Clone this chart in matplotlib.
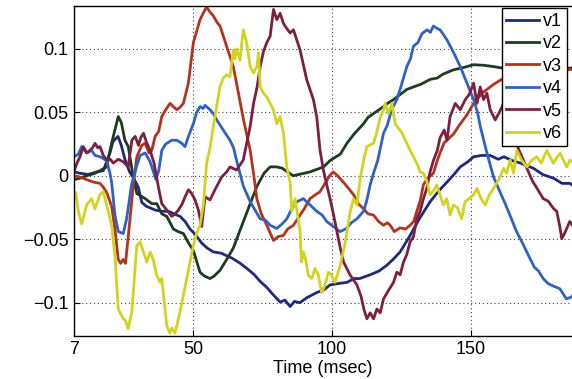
import matplotlib
matplotlib.use("Agg")
import matplotlib.pyplot as plt

# traced samples (time in msec, amplitude)
v1_t = [7, 9, 12, 15, 17.5, 19.9, 21, 22.8, 24, 25.3, 27, 28.5, 30.1, 31.4, 33, 36.2, 38.6, 41, 43, 45.2,
        47, 48.8, 50.6, 53, 55, 57.2, 60, 62, 64, 66.9, 69.3, 72, 74, 76.5, 78.5, 81.3, 83, 84.9, 86.5, 88.4,
        91, 94.5, 97, 99.3, 102, 105.4, 108, 110, 113.8, 117, 119.8, 122, 124.6, 128.2, 131.5, 135.4, 138.5,
        141.5, 144, 146.3, 149, 151.1, 154, 157.1, 160, 162, 165, 168, 172.6, 176, 180, 183, 185.9, 187]
v1_y = [0.003, 0.002, 0.001, 0.003, 0.004, 0.018, 0.027, 0.031, 0.024, 0.013, 0.003, -0.002, -0.009, -0.021,
        -0.024, -0.027, -0.028, -0.028, -0.030, -0.032, -0.036, -0.042, -0.046, -0.053, -0.057, -0.060, -0.061,
        -0.063, -0.065, -0.069, -0.073, -0.078, -0.083, -0.088, -0.093, -0.0995, -0.098, -0.103, -0.099, -0.100,
        -0.096, -0.092, -0.090, -0.086, -0.085, -0.084, -0.081, -0.081, -0.078, -0.075, -0.0705, -0.066, -0.060,
        -0.047, -0.034, -0.0205, -0.012, -0.005, 0.001, 0.007, 0.011, 0.015, 0.016, 0.016, 0.013, 0.015, 0.012,
        0.010, 0.006, 0.001, -0.002, -0.006, -0.006, -0.008]

v2_t = [7, 9, 11.5, 14.5, 16.3, 18.7, 20.5, 22.9, 24, 25.3, 26.5, 28.3, 29.6, 32.6, 35, 36.8, 38.6, 40.4,
        42.8, 44.5, 46.4, 48, 50, 52.4, 54, 56, 57.5, 59.6, 62, 64.4, 67, 70.5, 73, 75.5, 77.7, 80, 82, 84,
        86, 88, 90, 92, 94.5, 97, 99.3, 103, 105.4, 108, 111.4, 113, 115, 118.6, 120, 122.2, 124.6, 127,
        129.4, 132, 135.5, 138, 140, 143.9, 147, 151.1, 155, 158.3, 161, 165, 170, 175, 180, 187]
v2_y = [-0.003, -0.002, 0.0, 0.002, 0.004, 0.007, 0.0256, 0.0467, 0.042, 0.028, 0.023, -0.001, -0.014, -0.018,
        -0.022, -0.022, -0.030, -0.032, -0.042, -0.044, -0.0455, -0.052, -0.059, -0.076, -0.079, -0.081, -0.079,
        -0.0745, -0.066, -0.057, -0.042, -0.022, -0.008, 0.002, 0.007, 0.007, 0.006, 0.003, 0.0, 0.001, 0.002,
        0.003, 0.005, 0.007, 0.012, 0.017, 0.0256, 0.033, 0.041, 0.046, 0.049, 0.0545, 0.057, 0.060, 0.064,
        0.068, 0.070, 0.072, 0.076, 0.077, 0.080, 0.0835, 0.085, 0.0875, 0.087, 0.086, 0.085, 0.086, 0.085,
        0.085, 0.084, 0.085]

v3_t = [7, 9, 11.5, 14, 16.3, 17.5, 18.7, 20.5, 21.7, 22.9, 23.8, 24.7, 25.5, 26.5, 28.3, 29.6, 31.4, 32.6,
        34, 35, 36.2, 37.5, 38.6, 40, 41.6, 43, 44, 45.2, 46.4, 48.2, 50, 52.4, 54, 54.8, 56, 57.2, 58.5, 59.6,
        62, 64.4, 66, 68.1, 70.5, 71.7, 72.9, 74.5, 76.5, 78.9, 80.5, 82.5, 84, 86.1, 88.5, 90, 92.1, 94,
        95.7, 97.5, 99.3, 100.5, 102, 104.1, 106, 107.8, 109.5, 111.4, 113, 115, 116.8, 118.6, 120, 121,
        122.5, 124.6, 126.5, 128.2, 129.5, 130.6, 131.8, 133, 134.5, 136.6, 138, 139, 140.5, 143.9, 146,
        148.7, 151.1, 153, 154.7, 158.3, 161.3, 165, 170, 178, 187]
v3_y = [0.0, -0.001, -0.003, -0.005, -0.006, -0.009, -0.013, -0.024, -0.042, -0.066, -0.069, -0.066, -0.069,
        -0.048, -0.008, 0.015, 0.024, 0.0256, 0.018, 0.020, 0.031, 0.035, 0.0467, 0.052, 0.057, 0.054, 0.052,
        0.054, 0.057, 0.073, 0.105, 0.123, 0.130, 0.133, 0.129, 0.126, 0.121, 0.118, 0.102, 0.086, 0.068,
        0.044, 0.020, 0.002, -0.018, -0.030, -0.039, -0.051, -0.048, -0.047, -0.042, -0.039, -0.031, -0.026,
        -0.018, -0.015, -0.0126, -0.006, 0.0005, 0.003, 0.0, -0.005, -0.010, -0.015, -0.022, -0.026, -0.030,
        -0.031, -0.036, -0.039, -0.037, -0.039, -0.044, -0.041, -0.042, -0.039, -0.036, -0.028, -0.020, -0.007,
        -0.002, 0.002, 0.012, 0.018, 0.026, 0.033, 0.040, 0.048, 0.057, 0.062, 0.066, 0.072, 0.076, 0.079,
        0.080, 0.082, 0.084]

v4_t = [7, 8.5, 9.7, 11.5, 13.3, 14.5, 16.3, 18.7, 19.9, 20.5, 21.7, 22.9, 24.7, 25.9, 27.7, 29.6, 30.8,
        32.6, 34.4, 35.6, 36.5, 37.5, 38.6, 40, 42.2, 44, 45.8, 47, 48.2, 50, 51.2, 52.4, 53.5, 54.2, 56, 57.2,
        58.4, 60.8, 63.2, 64.5, 65.6, 66.8, 68, 70.5, 72.5, 74.1, 76, 77.7, 80.1, 82, 83.7, 85.5, 87.3, 89.7,
        92.1, 94.5, 96.5, 98.1, 100.5, 102.9, 105.3, 107, 109, 111.4, 112.5, 113.8, 115, 116.5, 118.6, 120,
        121.5, 123.4, 125, 127, 128.3, 129.4, 131, 132.5, 134.3, 135.5, 136.6, 138, 139, 140.3, 141.5, 143.9,
        146.3, 148.7, 151.1, 152.5, 153.5, 155.9, 158.3, 160.6, 162.5, 164.2, 166.6, 168.5, 171.4, 173, 174.5,
        176.2, 178, 180, 182.2, 184.6, 186.4, 187]
v4_y = [0.015, 0.017, 0.023, 0.018, 0.020, 0.016, 0.015, 0.012, 0.002, -0.005, -0.031, -0.044, -0.0455,
        -0.034, -0.007, 0.008, 0.016, 0.018, 0.011, 0.003, -0.003, 0.004, 0.020, 0.025, 0.028, 0.028, 0.0256,
        0.023, 0.031, 0.041, 0.050, 0.0545, 0.053, 0.0555, 0.052, 0.049, 0.044, 0.036, 0.028, 0.022, 0.012,
        0.002, -0.008, -0.0205, -0.028, -0.034, -0.035, -0.039, -0.0415, -0.038, -0.034, -0.026, -0.0205,
        -0.018, -0.023, -0.028, -0.031, -0.036, -0.040, -0.044, -0.0415, -0.037, -0.034, -0.028, -0.020, -0.007,
        0.002, 0.012, 0.0335, 0.040, 0.052, 0.060, 0.071, 0.086, 0.092, 0.102, 0.105, 0.112, 0.115, 0.113,
        0.118, 0.116, 0.115, 0.111, 0.107, 0.097, 0.086, 0.073, 0.060, 0.050, 0.039, 0.018, -0.001, -0.0126,
        -0.022, -0.031, -0.044, -0.052, -0.065, -0.072, -0.075, -0.081, -0.085, -0.087, -0.089, -0.097, -0.0955,
        -0.094]

v5_t = [7, 8, 9.1, 10.3, 11.5, 12.7, 13.6, 14.5, 15.5, 16.3, 17.5, 18.7, 20, 21.1, 22.9, 24.7, 26.5, 27.8,
        29, 30.2, 31, 32, 33.2, 34.4, 35.8, 37.4, 38.6, 40.4, 42.2, 43.4, 44.6, 46, 47, 48.2, 49.4, 50.6, 51.8,
        53, 54.2, 56, 57.8, 60.2, 62, 63.2, 65.6, 68, 70.5, 71.7, 73, 74.1, 75.3, 76.5, 77.7, 78.9, 80.1, 81.3,
        82.5, 83.7, 84.9, 86.1, 87.3, 88.5, 90.9, 93.3, 94.5, 95.7, 96.9, 98, 99.3, 100.5, 101.8, 103, 104.2,
        106.5, 109, 110.5, 111.5, 112.6, 113.8, 115, 116.2, 117.4, 118.6, 120.5, 122.2, 123.4, 124.6, 125.8,
        127, 128.2, 129.4, 130.6, 131.8, 133, 134.2, 135.4, 136.6, 138, 139, 140.5, 141.5, 142.6, 144.5, 146.3,
        148.1, 149.5, 151.1, 152.3, 153.5, 154.7, 155.9, 157.1, 158.9, 160.4, 161.9, 163.5, 165, 167.5, 169.5,
        171.4, 172.3, 174, 176.2, 178, 180, 181.1, 182.2, 182.9, 184, 185.8, 187]
v5_y = [0.004, 0.010, 0.015, 0.023, 0.018, 0.020, 0.022, 0.0255, 0.022, 0.023, 0.016, 0.0125, 0.013, 0.010,
        0.013, 0.011, 0.007, 0.028, 0.031, 0.024, 0.030, 0.0335, 0.0256, 0.020, 0.010, -0.009, -0.022, -0.027,
        -0.032, -0.030, -0.027, -0.022, -0.0166, -0.011, -0.014, -0.019, -0.027, -0.040, -0.0166, -0.019,
        -0.011, -0.001, 0.003, 0.007, 0.0045, 0.0124, 0.039, 0.057, 0.070, 0.086, 0.098, 0.105, 0.110, 0.131,
        0.123, 0.128, 0.120, 0.116, 0.1125, 0.115, 0.107, 0.099, 0.0756, 0.060, 0.0466, 0.020, 0.0045, -0.006,
        -0.018, -0.030, -0.044, -0.057, -0.068, -0.078, -0.086, -0.095, -0.105, -0.1127, -0.108, -0.1127,
        -0.105, -0.108, -0.097, -0.090, -0.084, -0.076, -0.078, -0.068, -0.062, -0.052, -0.048, -0.034, -0.028,
        -0.018, -0.010, 0.003, 0.012, 0.020, 0.030, 0.036, 0.028, 0.0466, 0.057, 0.052, 0.060, 0.064, 0.073,
        0.057, 0.070, 0.060, 0.065, 0.052, 0.044, 0.050, 0.057, 0.045, 0.035, 0.020, 0.010, 0.0005, -0.004,
        -0.010, -0.018, -0.020, -0.026, -0.028, -0.040, -0.0495, -0.045, -0.036, -0.040]

v6_t = [7, 7.5, 8.5, 9.7, 11.5, 13.3, 14.5, 16.3, 17.5, 18.7, 20.5, 21.7, 22.9, 24.7, 25.5, 26.5, 27.8, 29.6,
        30.8, 32, 33.2, 34.4, 35.5, 36.8, 38, 38.6, 40.4, 41.5, 42.2, 43.4, 45.2, 47.6, 50, 51.2, 52.4, 53.6,
        54.8, 56, 57.2, 58.4, 59.6, 60.8, 62, 63.2, 64.4, 65, 65.6, 66.8, 68, 69.2, 70.5, 71.7, 72.9, 73.5,
        74.1, 75.3, 76.5, 77.7, 78.9, 80.1, 81.3, 82.5, 83.7, 84.9, 85.5, 86.7, 88.5, 89, 89.7, 90.5, 91.5,
        92.7, 93.9, 95.1, 96.3, 97.5, 98.7, 99.9, 101.1, 103, 104.8, 106.6, 107.8, 109, 110.2, 111.4, 112.6,
        115, 116, 117.4, 118.6, 119.2, 120.4, 121.6, 122.8, 125.2, 128.2, 129.4, 131, 131.8, 133, 134.2,
        135.4, 136.6, 137.8, 139, 140.2, 141.4, 142.6, 143.8, 145.2, 146.8, 148, 149.5, 151.1, 152.3, 153.8,
        155.3, 156.8, 158.3, 160.7, 161.9, 163, 164.3, 165.5, 166.7, 168.5, 170.3, 172, 173.9, 175.5, 177.5,
        179.9, 181, 182.3, 184.7, 185.9, 187]
v6_y = [-0.014, -0.013, -0.028, -0.038, -0.023, -0.018, -0.026, -0.015, -0.0126, -0.023, -0.039, -0.063,
        -0.105, -0.1127, -0.114, -0.1205, -0.107, -0.055, -0.052, -0.060, -0.068, -0.060, -0.066, -0.0785,
        -0.084, -0.081, -0.118, -0.124, -0.120, -0.124, -0.107, -0.081, -0.055, -0.045, -0.039, -0.023, 0.010,
        0.022, 0.039, 0.055, 0.070, 0.077, 0.0795, 0.078, 0.099, 0.092, 0.100, 0.091, 0.115, 0.105, 0.086,
        0.081, 0.086, 0.097, 0.070, 0.065, 0.062, 0.057, 0.052, 0.041, 0.0466, 0.0335, 0.007, -0.005, -0.028,
        -0.018, -0.044, -0.068, -0.060, -0.066, -0.0785, -0.081, -0.073, -0.0785, -0.092, -0.086, -0.076,
        -0.0785, -0.084, -0.0705, -0.052, -0.028, -0.018, -0.023, -0.002, 0.012, 0.023, 0.0256, 0.033, 0.046,
        0.052, 0.057, 0.049, 0.057, 0.041, 0.034, 0.020, 0.015, 0.008, 0.003, 0.002, -0.004, -0.015, -0.012,
        -0.0073, -0.015, -0.023, -0.018, -0.031, -0.023, -0.025, -0.034, -0.0205, -0.018, -0.015, -0.010,
        -0.018, -0.023, -0.015, -0.010, -0.001, 0.006, 0.002, 0.0124, 0.002, 0.020, 0.012, 0.007, 0.012, 0.015,
        0.010, 0.020, 0.0098, 0.014, 0.0177, 0.007, 0.0124, 0.010]

labels = ["v1", "v2", "v3", "v4", "v5", "v6"]
colors = ["#1f2a78", "#1d3b1f", "#b3331f", "#2f62c4", "#7c1f40", "#d2d320"]

xticks = [7, 50, 100, 150]
yticks = [-0.1, -0.05, 0, 0.05, 0.1]
ytick_labels = ["\u22120.1", "\u22120.05", "0", "0.05", "0.1"]

plt.rcParams["font.family"] = ["Liberation Sans", "DejaVu Sans"]

fig = plt.figure(figsize=(5.72, 3.79), dpi=100)
ax = fig.add_axes([0.1297, 0.1143, 0.8703, 0.8707])

series = [(v1_t, v1_y), (v2_t, v2_y), (v3_t, v3_y), (v4_t, v4_y), (v5_t, v5_y), (v6_t, v6_y)]
for (t, y), lab, c in zip(series, labels, colors):
    ax.plot(t, y, color=c, lw=2.0, label=lab)

ax.set_xlim(7, 186.6)
ax.set_ylim(-0.126, 0.134)
ax.set_xticks(xticks)
ax.set_xticklabels([str(v) for v in xticks])
ax.set_yticks(yticks)
ax.set_yticklabels(ytick_labels)
ax.tick_params(direction="in", length=4, width=0.8, labelsize=13, pad=4)
ax.grid(True, color="#444444", linestyle=(0, (1, 2.5)), linewidth=0.8)
ax.spines["right"].set_visible(False)
for s in ["left", "bottom", "top"]:
    ax.spines[s].set_linewidth(1.0)

ax.set_xlabel("Time (msec)", fontsize=13, labelpad=1)

leg = ax.legend(loc="upper left", bbox_to_anchor=(0.859, 0.992), fontsize=13,
                frameon=True, fancybox=False, framealpha=1, edgecolor="black",
                borderpad=0.25, labelspacing=0.3, handlelength=1.8, handletextpad=0.25,
                borderaxespad=0)
leg.get_frame().set_linewidth(1.0)

fig.savefig("out.png", dpi=100)
